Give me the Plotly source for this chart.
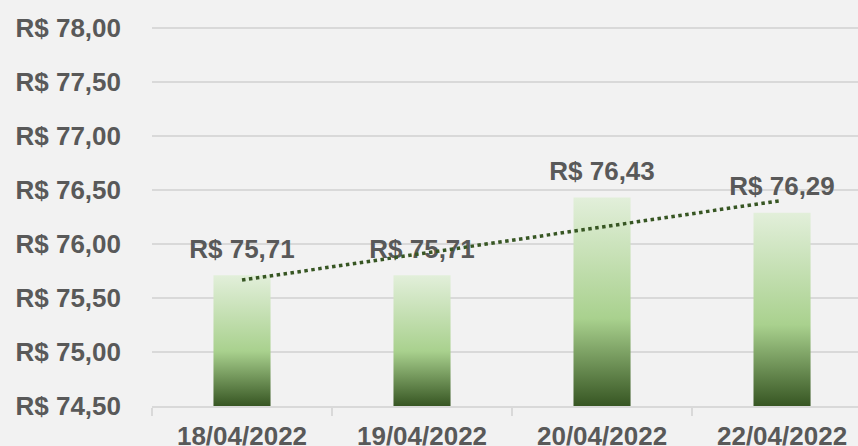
import numpy as np
import plotly.graph_objects as go

categories = ["18/04/2022", "19/04/2022", "20/04/2022", "22/04/2022"]
values = [75.71, 75.71, 76.43, 76.29]
y_min, y_max, y_step = 74.5, 78.0, 0.5

FONT = "Liberation Sans, Arial, sans-serif"
TXT = "#595959"
BG = "#f2f2f2"
BAR_W = 0.317

fig = go.Figure()
xs = np.arange(len(categories))

for i, v in enumerate(values):
    x0, x1 = i - BAR_W / 2, i + BAR_W / 2
    fig.add_trace(go.Scatter(
        x=[x0, x1, x1, x0, x0], y=[y_min, y_min, v, v, y_min],
        mode="lines", fill="toself", line=dict(width=0),
        fillgradient=dict(type="vertical",
                          colorscale=[[0, "#375623"], [0.42, "#a9d18e"], [1, "#e2efda"]]),
        hoverinfo="skip", showlegend=False))

labels = ["R$ " + f"{v:.2f}".replace(".", ",") for v in values]
fig.add_trace(go.Scatter(
    x=xs, y=values, mode="markers+text", text=labels, textposition="top center",
    marker=dict(size=16, color="rgba(0,0,0,0)"),
    textfont=dict(family=FONT, size=26, color=TXT, weight="bold"),
    hoverinfo="skip", showlegend=False, cliponaxis=False))

slope, intercept = np.polyfit(xs, values, 1)
fig.add_trace(go.Scatter(
    x=[xs[0], xs[-1]], y=[intercept + slope * xs[0], intercept + slope * xs[-1]],
    mode="lines", line=dict(color="#375623", width=3.5, dash="dot"),
    hoverinfo="skip", showlegend=False))

fig.update_layout(
    width=858, height=446,
    margin=dict(l=152, r=0, t=27, b=40, autoexpand=False),
    paper_bgcolor=BG, plot_bgcolor=BG,
    separators=",.",
    font=dict(family=FONT, color=TXT),
    xaxis=dict(
        range=[-0.5, 3.422], tickvals=list(xs), ticktext=categories,
        showgrid=False, zeroline=False, ticks="", ticklen=0, automargin=False,
        showline=True, linecolor="#d9d9d9", linewidth=2,
        tickfont=dict(family=FONT, size=26, color=TXT, weight="bold"),
        ticklabelstandoff=6,
        minor=dict(ticks="outside", tick0=-0.5, dtick=1, ticklen=8,
                   tickcolor="#d9d9d9", tickwidth=2, showgrid=False),
    ),
    yaxis=dict(
        range=[y_min, y_max + 0.01], tick0=y_min, dtick=y_step,
        tickprefix="R$ ", tickformat=".2f", automargin=False,
        showgrid=True, gridcolor="#d9d9d9", gridwidth=1.5, zeroline=False,
        ticks="", showline=False,
        tickfont=dict(family=FONT, size=26, color=TXT, weight="bold"),
        ticklabelstandoff=30,
    ),
)

fig.write_html(
    "out.html",
    config={"displayModeBar": False},
    post_script="document.body.style.margin='0';document.body.style.background='" + BG + "';",
)
